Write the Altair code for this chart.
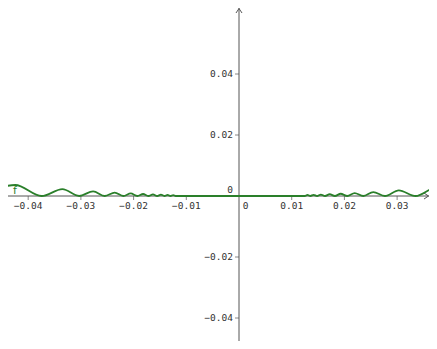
import altair as alt
import pandas as pd

# Curve values (local peaks and touch-points of the green curve)
curve_x = [-0.04897, -0.04244, -0.03745, -0.03351, -0.03032, -0.02768, -0.02547, -0.02358,
           -0.02195, -0.02054, -0.01929, -0.01819, -0.01721, -0.01632, -0.01553, -0.01481,
           -0.01415, -0.01355, -0.01299, -0.01248, -0.01201, 0.0,
           0.01248, 0.01299, 0.01355, 0.01415, 0.01481, 0.01553, 0.01632, 0.01721,
           0.01819, 0.01929, 0.02054, 0.02195, 0.02358, 0.02547, 0.02768, 0.03032,
           0.03351, 0.03745, 0.04244]
curve_y = [0.0, 0.00360, 0.0, 0.00225, 0.0, 0.00153, 0.0, 0.00111,
           0.0, 0.00084, 0.0, 0.00066, 0.0, 0.00053, 0.0, 0.00044,
           0.0, 0.00037, 0.0, 0.00031, 0.0, 0.0,
           0.0, 0.00034, 0.0, 0.00040, 0.0, 0.00048, 0.0, 0.00059,
           0.0, 0.00074, 0.0, 0.00096, 0.0, 0.00130, 0.0, 0.00184,
           0.0, 0.00280, 0.0]

x_ticks = [-0.04, -0.03, -0.02, -0.01, 0.01, 0.02, 0.03]
x_labels = ["\u22120.04", "\u22120.03", "\u22120.02", "\u22120.01", "0.01", "0.02", "0.03"]
y_ticks = [0.04, 0.02, -0.02, -0.04]
y_labels = ["0.04", "0.02", "\u22120.02", "\u22120.04"]

X_DOMAIN = [-0.04383, 0.03605]
Y_DOMAIN = [-0.04754, 0.06164]

AXIS_COLOR = "#555555"
LABEL_COLOR = "#333333"
CURVE_COLOR = "#2a7f2a"
MONO = "DejaVu Sans Mono"

W, H = 421, 333

xs = alt.Scale(domain=X_DOMAIN, nice=False, zero=False)
ys = alt.Scale(domain=Y_DOMAIN, nice=False, zero=False)

def X(field="x"):
    return alt.X(f"{field}:Q", scale=xs, axis=None)

def Y(field="y"):
    return alt.Y(f"{field}:Q", scale=ys, axis=None)

curve_df = pd.DataFrame({"x": curve_x, "y": curve_y})
xt_df = pd.DataFrame({"x": x_ticks, "y": [0.0] * len(x_ticks), "label": x_labels})
yt_df = pd.DataFrame({"x": [0.0] * len(y_ticks), "y": y_ticks, "label": y_labels})
origin_df = pd.DataFrame({"x": [0.0], "y": [0.0], "label": ["0"]})

x_axis_line = alt.Chart(origin_df).mark_rule(color=AXIS_COLOR, strokeWidth=1).encode(y=Y())
y_axis_line = alt.Chart(origin_df).mark_rule(color=AXIS_COLOR, strokeWidth=1).encode(x=X())

x_tick_marks = alt.Chart(xt_df).mark_tick(
    color=AXIS_COLOR, orient="vertical", size=4, thickness=1, yOffset=2
).encode(x=X(), y=Y())
y_tick_marks = alt.Chart(yt_df).mark_tick(
    color=AXIS_COLOR, orient="horizontal", size=4, thickness=1, xOffset=-2
).encode(x=X(), y=Y())

x_tick_text = alt.Chart(xt_df).mark_text(
    font=MONO, fontSize=9.5, color=LABEL_COLOR, align="center", baseline="alphabetic", dy=12.5
).encode(x=X(), y=Y(), text="label:N")
y_tick_text = alt.Chart(yt_df).mark_text(
    font=MONO, fontSize=9.5, color=LABEL_COLOR, align="right", baseline="alphabetic", dx=-6, dy=3.3
).encode(x=X(), y=Y(), text="label:N")
origin_y_text = alt.Chart(origin_df).mark_text(
    font=MONO, fontSize=9.5, color=LABEL_COLOR, align="right", baseline="alphabetic", dx=-6, dy=-2.7
).encode(x=X(), y=Y(), text="label:N")
origin_x_text = alt.Chart(origin_df).mark_text(
    font=MONO, fontSize=9.5, color=LABEL_COLOR, align="center", baseline="alphabetic", dx=6.5, dy=12.5
).encode(x=X(), y=Y(), text="label:N")

up_arrow = alt.Chart(origin_df).mark_point(
    shape="M -0.67 1 L 0 0 L 0.67 1", size=81, filled=False, stroke=AXIS_COLOR, strokeWidth=1, opacity=1
).encode(x=X(), y=alt.value(0.5))
right_arrow = alt.Chart(origin_df).mark_point(
    shape="M -1 -0.67 L 0 0 L -1 0.67", size=81, filled=False, stroke=AXIS_COLOR, strokeWidth=1, opacity=1
).encode(x=alt.value(W - 0.5), y=Y())

curve = alt.Chart(curve_df).mark_line(
    color=CURVE_COLOR, strokeWidth=1.8, interpolate="monotone", clip=True
).encode(x=X(), y=Y())

f_df = pd.DataFrame({"x": [-0.0425], "y": [0.00066], "label": ["f"]})
f_label = alt.Chart(f_df).mark_text(
    font="DejaVu Sans", fontSize=11, color=CURVE_COLOR, align="center", baseline="alphabetic"
).encode(x=X(), y=Y(), text="label:N")

chart = alt.layer(
    x_axis_line, y_axis_line, x_tick_marks, y_tick_marks,
    x_tick_text, y_tick_text, origin_y_text, origin_x_text,
    up_arrow, right_arrow, curve, f_label
).properties(
    width=W, height=H, padding=0, autosize=alt.AutoSizeParams(type="none")
).configure_view(stroke=None)

chart.save("out.html", embed_options={"renderer": "svg", "actions": False})
